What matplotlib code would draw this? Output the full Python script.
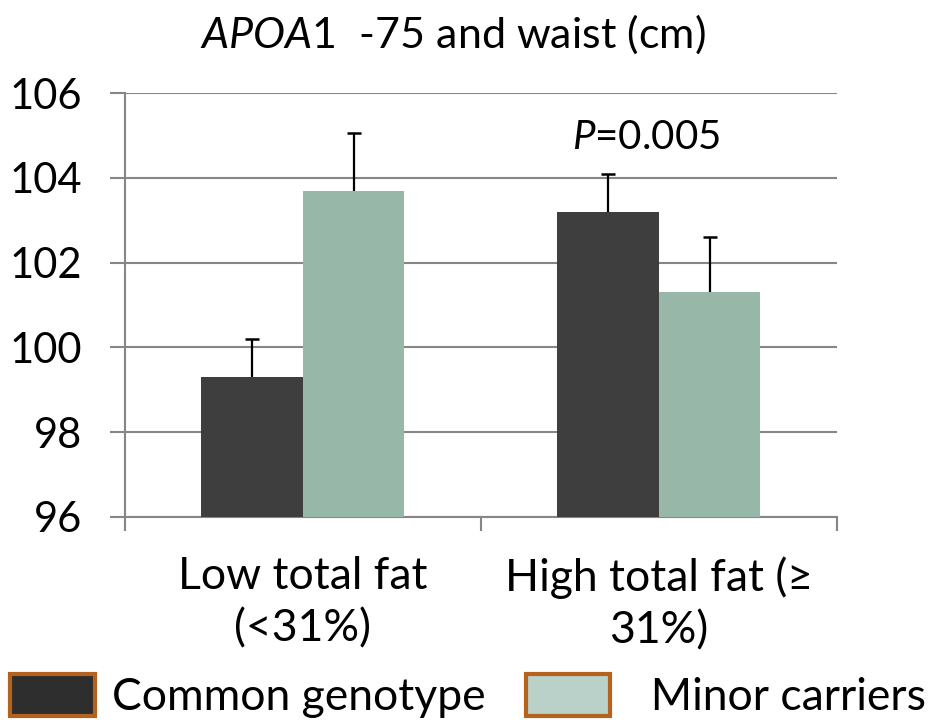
import matplotlib
import matplotlib.pyplot as plt
import numpy as np
from matplotlib.patches import Patch

matplotlib.use('Agg')

plt.rcParams['font.family'] = ['Lato', 'DejaVu Sans']
plt.rcParams['mathtext.fontset'] = 'custom'
plt.rcParams['mathtext.rm'] = 'Lato'
plt.rcParams['mathtext.it'] = 'Lato:italic'

# data
categories = ['Low total fat\n(<31%)', 'High total fat (\u2265\n31%)']
series_names = ['Common genotype', '  Minor carriers']
common_means = [99.3, 103.2]
minor_means = [103.7, 101.3]
common_err = [0.9, 0.9]
minor_err = [1.35, 1.3]
y_ticks = [96, 98, 100, 102, 104, 106]

bar_colors = ['#3e3e3e', '#97b7a9']
legend_colors = ['#2e2e2e', '#bad1c9']
grid_color = '#868686'

fig = plt.figure(figsize=(9.36, 7.27), dpi=100)
ax = fig.add_axes([0.1335, 0.2889, 0.7605, 0.5831])

x = np.arange(len(categories))
w = 0.285
for offset, means, errs, color in [(-w / 2, common_means, common_err, bar_colors[0]),
								   (w / 2, minor_means, minor_err, bar_colors[1])]:
	ax.bar(x + offset, means, w, color=color, zorder=3)
	tops = np.array(means) + np.array(errs)
	# upward-only error bars with a single cap
	ax.errorbar(x + offset, means, yerr=[np.zeros(len(errs)), errs], fmt='none',
				ecolor='black', elinewidth=1.6, capsize=0, zorder=4)
	ax.plot(x + offset, tops, linestyle='none', marker='_', markersize=10,
			markeredgewidth=1.8, color='black', zorder=4)

ax.set_ylim(96, 106)
ax.set_xlim(-0.5, 1.5)
ax.set_yticks(y_ticks)
ax.set_yticklabels([str(t) for t in y_ticks])
ax.yaxis.grid(True, color=grid_color, linewidth=1.5, zorder=0)
ax.set_axisbelow(True)

# category boundaries get tick marks, centres get the labels
ax.set_xticks([-0.5, 0.5, 1.5])
ax.set_xticklabels(['', '', ''])
ax.set_xticks(x, minor=True)
ax.set_xticklabels(categories, minor=True, fontsize=32, linespacing=1.34)
ax.tick_params(axis='x', which='major', length=10, width=1.5, color=grid_color, direction='out')
ax.tick_params(axis='x', which='minor', length=0, pad=28)
ax.tick_params(axis='y', length=11, width=1.5, color=grid_color, direction='out', pad=20, labelsize=30)

for s in ['top', 'right']:
	ax.spines[s].set_visible(False)
for s in ['left', 'bottom']:
	ax.spines[s].set_color(grid_color)
	ax.spines[s].set_linewidth(1.5)

fig.text(0.484, 0.953, r'$\it{APOA1}$  -75 and waist (cm)', ha='center', va='center', fontsize=31)
ax.text(0.965, 104.95, r'$\it{P}$=0.005', ha='center', va='center', fontsize=29)

handles = [Patch(facecolor=c, edgecolor='#b5621e', linewidth=3) for c in legend_colors]
fig.legend(handles, series_names, loc='lower left', bbox_to_anchor=(0.006, 0.006), ncol=2,
		   frameon=False, fontsize=32, handlelength=1.9, handleheight=1.1,
		   handletextpad=0.4, columnspacing=0.9, borderaxespad=0.0, borderpad=0.1)

fig.savefig('out.png', dpi=100)
